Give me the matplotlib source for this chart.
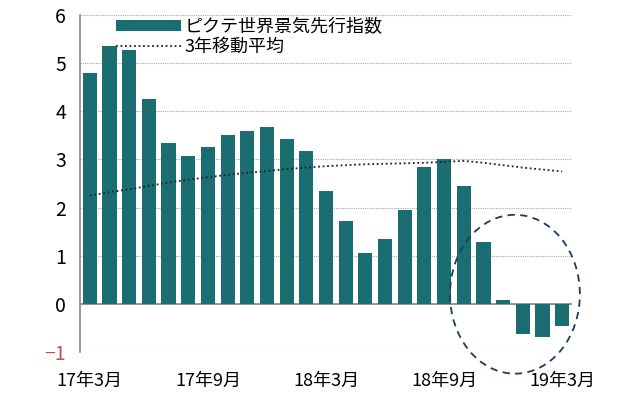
import matplotlib
matplotlib.use("Agg")
import matplotlib.pyplot as plt
from matplotlib.patches import Ellipse

plt.rcParams['font.family'] = ['Noto Sans CJK JP', 'DejaVu Sans']

values = [4.8, 5.35, 5.28, 4.25, 3.35, 3.07, 3.25, 3.5, 3.6, 3.67, 3.43, 3.17,
          2.35, 1.72, 1.05, 1.35, 1.95, 2.85, 3.0, 2.45, 1.28, 0.08, -0.63, -0.68, -0.45]
moving_avg = [2.25, 2.32, 2.38, 2.45, 2.52, 2.58, 2.63, 2.68, 2.72, 2.76, 2.8, 2.83,
              2.86, 2.88, 2.9, 2.91, 2.92, 2.93, 2.95, 2.97, 2.93, 2.88, 2.83, 2.79, 2.75]
tick_pos = [0, 6, 12, 18, 24]
tick_labels = ['17年3月', '17年9月', '18年3月', '18年9月', '19年3月']
yticks = [-1, 0, 1, 2, 3, 4, 5, 6]

fig = plt.figure(figsize=(6.4, 4.11), dpi=100)
ax = fig.add_axes([80/640, 1-352/411, 492/640, 337/411])
x = list(range(len(values)))
b = ax.bar(x, values, width=0.72, color='#1a6e72', label='ピクテ世界景気先行指数', zorder=3)
l, = ax.plot(x, moving_avg, color='#222222', linestyle=(0, (1, 1.5)), lw=1.3, label='3年移動平均', zorder=4)
ax.axhline(0, color='#888888', lw=1.2, zorder=2)
ax.set_xlim(-0.5, 24.5)
ax.set_ylim(-1, 6)
ax.set_yticks(yticks)
ax.set_yticklabels([str(v) if v >= 0 else '−1' for v in yticks], fontsize=14)
ax.get_yticklabels()[0].set_color('#c0504d')
ax.set_xticks(tick_pos)
ax.set_xticklabels(tick_labels, fontsize=13)
ax.tick_params(axis='y', length=0, pad=10)
ax.tick_params(axis='x', length=0, pad=14)
ax.yaxis.grid(True, color='#aaaaaa', linestyle=(0, (1, 1)), lw=0.8, zorder=0)
for s in ['top', 'right', 'bottom']:
    ax.spines[s].set_visible(False)
ax.spines['left'].set_color('#888888')
ax.spines['left'].set_linewidth(1.2)
ax.add_patch(Ellipse((21.6, 0.2), 6.6, 3.3, fill=False, edgecolor='#1f3a5a',
                     linestyle=(0, (4, 3)), lw=1.3, clip_on=False, zorder=5))
leg = ax.legend([b, l], ['ピクテ世界景気先行指数', '3年移動平均'], loc='upper left',
                bbox_to_anchor=(0.04, 1.04), frameon=False,
                fontsize=13, handlelength=3.6, handleheight=0.5, labelspacing=0.1, handletextpad=0.2)
fig.savefig('out.png')
